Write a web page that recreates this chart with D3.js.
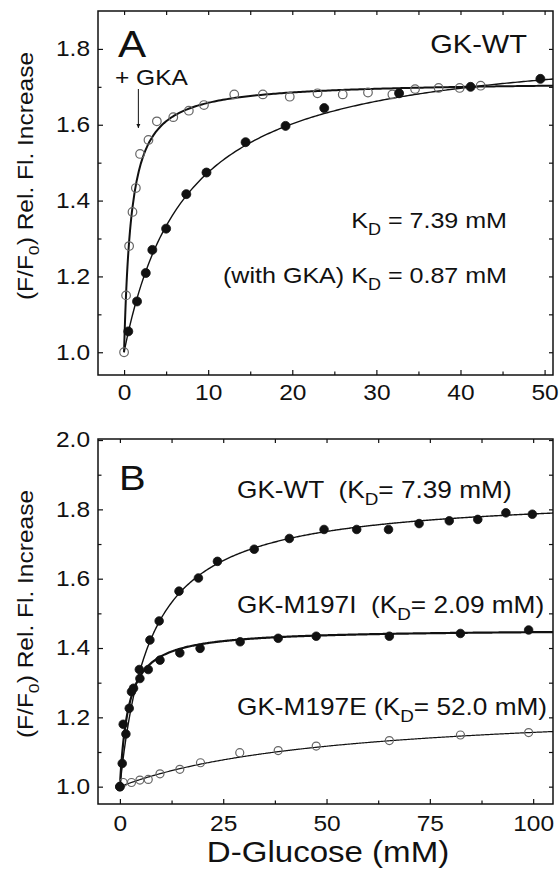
<!DOCTYPE html>
<html>
<head>
<meta charset="utf-8">
<script src="https://cdn.jsdelivr.net/npm/d3@7"></script>
<style>
body { margin: 0; background: #fff; }
svg { display: block; font-family: "Liberation Sans", Arial, sans-serif; }
</style>
</head>
<body>
<div id="chart"></div>
<script>

// ---- panel A : GK-WT, glucose titration with and without GKA ----
const concA_gka = [0, 0.24, 0.6, 1.0, 1.4, 1.9, 2.9, 3.9, 5.85, 7.7, 9.5, 13.1, 16.5, 19.7, 23.0, 26.0, 29.0, 31.9, 34.6, 37.4, 39.9, 42.4];
const relA_gka  = [1.0, 1.15, 1.28, 1.37, 1.433, 1.523, 1.56, 1.609, 1.62, 1.637, 1.652, 1.68, 1.68, 1.674, 1.683, 1.68, 1.685, 1.68, 1.694, 1.697, 1.697, 1.703];

const concA_wt = [0.5, 1.54, 2.58, 3.36, 5.0, 7.4, 9.8, 14.45, 19.2, 23.8, 32.7, 41.2, 49.5];
const relA_wt  = [1.055, 1.134, 1.209, 1.27, 1.326, 1.417, 1.474, 1.554, 1.597, 1.644, 1.683, 1.70, 1.721];

// ---- panel B : WT and the two mutants ----
const concB_wt = [0, 0.56, 1.45, 2.26, 4.7, 7.26, 9.5, 14.3, 19.0, 23.6, 32.5, 41.0, 49.4, 57.3, 65.0, 72.4, 79.7, 86.6, 93.4, 99.8];
const relB_wt  = [1.0, 1.067, 1.152, 1.226, 1.338, 1.423, 1.478, 1.564, 1.602, 1.650, 1.685, 1.716, 1.742, 1.742, 1.742, 1.759, 1.767, 1.771, 1.79, 1.786];

const concB_i = [0, 0.8, 2.8, 3.3, 4.84, 6.86, 9.7, 14.5, 19.4, 29.1, 38.3, 47.5, 65.2, 82.4, 98.9];
const relB_i  = [1.0, 1.18, 1.274, 1.284, 1.312, 1.338, 1.365, 1.386, 1.399, 1.418, 1.428, 1.434, 1.434, 1.442, 1.452];

const concB_e = [0, 0.8, 2.8, 4.84, 6.86, 9.7, 14.5, 19.5, 29.0, 38.3, 47.5, 65.2, 82.4, 98.9];
const relB_e  = [1.0, 1.012, 1.012, 1.019, 1.021, 1.037, 1.05, 1.069, 1.098, 1.104, 1.117, 1.133, 1.149, 1.156];

// hyperbolic fits: F/F0 = 1 + fmax * S / (KD + S)
const fitNames = ['A_wt', 'A_gka', 'B_wt', 'B_i', 'B_e'];
const fitKd    = [7.39, 0.87, 7.39, 2.09, 52.0];
const fitFmax  = [0.825, 0.715, 0.845, 0.455, 0.238];
const fitWidth = [1.4, 2.0, 1.4, 2.2, 1.2];

// ticks
const xTicksA = [0, 10, 20, 30, 40, 50];
const xMinorA = [5, 15, 25, 35, 45];
const yTicksA = [1.0, 1.2, 1.4, 1.6, 1.8];
const yMinorA = [1.1, 1.3, 1.5, 1.7];
const xTicksB = [0, 25, 50, 75, 100];
const xMinorB = [12.5, 37.5, 62.5, 87.5];
const yTicksB = [1.0, 1.2, 1.4, 1.6, 1.8, 2.0];
const yMinorB = [1.1, 1.3, 1.5, 1.7, 1.9];

const W = 560, H = 874;
const stretch = 1.14;   // the original lettering is a bit wide
const ink = '#111';

let svg = d3.select('#chart')
  .append('svg')
    .attr('width', W)
    .attr('height', H)
;

svg.append('defs').append('marker')
    .attr('id', 'arrowhead')
    .attr('viewBox', '0 0 10 10')
    .attr('refX', 10)
    .attr('refY', 5)
    .attr('markerWidth', 4)
    .attr('markerHeight', 9)
    .attr('markerUnits', 'userSpaceOnUse')
    .attr('orient', 'auto')
  .append('path')
    .attr('d', 'M0,0 L10,5 L0,10 z')
    .attr('fill', ink)
;

function styleAxis(g, withText) {
  g.select('.domain').remove();
  g.selectAll('.tick line').attr('stroke', ink).attr('stroke-width', 1.2);
  if (withText) {
    g.selectAll('.tick text')
      .attr('font-size', 21.5)
      .attr('fill', ink)
      .attr('transform', 'scale(' + stretch + ',1)');
  } else {
    g.selectAll('.tick text').remove();
  }
}

function panel(xDom, yDom, top, bottom, xMajor, xMinor, yMajor, yMinor, xFmt, pad) {
  let left = 98, right = 553;
  let x = d3.scaleLinear().domain(xDom).range([left, right]);
  let y = d3.scaleLinear().domain(yDom).range([bottom, top]);
  let g = svg.append('g');

  // bottom + top
  g.append('g').attr('transform', 'translate(0,' + bottom + ')')
    .call(d3.axisBottom(x).tickValues(xMajor).tickSize(-5).tickPadding(pad).tickFormat(d3.format(xFmt)))
    .call(a => styleAxis(a, true));
  g.append('g').attr('transform', 'translate(0,' + bottom + ')')
    .call(d3.axisBottom(x).tickValues(xMinor).tickSize(-3.5))
    .call(a => styleAxis(a, false));
  g.append('g').attr('transform', 'translate(0,' + top + ')')
    .call(d3.axisTop(x).tickValues(xMajor.concat(xMinor)).tickSize(-4))
    .call(a => styleAxis(a, false));

  // left + right
  g.append('g').attr('transform', 'translate(' + left + ',0)')
    .call(d3.axisLeft(y).tickValues(yMajor).tickSize(-5).tickPadding(7).tickFormat(d3.format('.1f')))
    .call(a => styleAxis(a, true));
  g.append('g').attr('transform', 'translate(' + left + ',0)')
    .call(d3.axisLeft(y).tickValues(yMinor).tickSize(-3.5))
    .call(a => styleAxis(a, false));
  g.append('g').attr('transform', 'translate(' + right + ',0)')
    .call(d3.axisRight(y).tickValues(yMajor.concat(yMinor)).tickSize(-4))
    .call(a => styleAxis(a, false));

  g.append('rect')
    .attr('x', left).attr('y', top)
    .attr('width', right - left).attr('height', bottom - top)
    .attr('fill', 'none').attr('stroke', ink).attr('stroke-width', 1.5);

  return {g: g, x: x, y: y};
}

function fitCurve(p, name, xmax) {
  let i = fitNames.indexOf(name);
  let xs = d3.range(0, 1, 0.01).concat(d3.range(1, xmax, 0.25)).concat([xmax]);
  let line = d3.line()
    .x(d => p.x(d))
    .y(d => p.y(1 + fitFmax[i] * d / (fitKd[i] + d)));
  p.g.append('path')
    .attr('d', line(xs))
    .attr('fill', 'none')
    .attr('stroke', ink)
    .attr('stroke-width', fitWidth[i]);
}

function dots(p, xs, ys, filled, r) {
  p.g.selectAll(null).data(xs).enter()
    .append('circle')
      .attr('cx', d => p.x(d))
      .attr('cy', (d, i) => p.y(ys[i]))
      .attr('r', r)
      .attr('fill', filled ? ink : 'none')
      .attr('stroke', filled ? ink : '#666')
      .attr('stroke-width', filled ? 0.8 : 1.2);
}

// text with optional subscripts: parts starting with "_" are subscripts
function label(x, y, size, parts, anchor, rot) {
  let t = svg.append('text')
    .attr('transform', 'translate(' + x + ',' + y + ')' + (rot ? ' rotate(' + rot + ')' : '') + ' scale(' + stretch + ',1)')
    .attr('font-size', size)
    .attr('fill', ink)
    .attr('text-anchor', anchor || 'start')
    .style('white-space', 'pre');
  let low = 0;
  parts.forEach(s => {
    let sub = s[0] == '_';
    let dy = sub ? size * 0.3 : 0;
    t.append('tspan')
      .attr('dy', dy - low)
      .attr('font-size', sub ? size * 0.72 : size)
      .text(sub ? s.slice(1) : s);
    low = dy;
  });
  return t;
}

// ---- panel A ----
let pA = panel([-3.1, 51], [0.94, 1.9], 11, 375, xTicksA, xMinorA, yTicksA, yMinorA, 'd', 10);
fitCurve(pA, 'A_wt', 51);
fitCurve(pA, 'A_gka', 51);
dots(pA, concA_gka, relA_gka, false, 4.3);
dots(pA, concA_wt, relA_wt, true, 4.5);

pA.g.append('line')
  .attr('x1', pA.x(1.7)).attr('x2', pA.x(1.7))
  .attr('y1', 89).attr('y2', 128)
  .attr('stroke', ink).attr('stroke-width', 1)
  .attr('marker-end', 'url(#arrowhead)');

label(118, 57, 37, ['A']);
label(115, 85, 21.5, ['+ GKA']);
label(527, 53, 25.5, ['GK-WT'], 'end');
label(507, 228, 22, ['K', '_D', ' = 7.39 mM'], 'end');
label(507, 283, 22, ['(with GKA) K', '_D', ' = 0.87 mM'], 'end');
label(33, 176, 21.5, ['(F/F', '_0', ') Rel. Fl. Increase'], 'middle', -90);

// ---- panel B ----
let pB = panel([-5.3, 104.8], [0.95, 2.003], 439, 804, xTicksB, xMinorB, yTicksB, yMinorB, 'd', 12);
fitCurve(pB, 'B_e', 104.8);
fitCurve(pB, 'B_wt', 104.8);
fitCurve(pB, 'B_i', 104.8);
dots(pB, concB_e, relB_e, false, 4);
dots(pB, concB_wt, relB_wt, true, 4.3);
dots(pB, concB_i, relB_i, true, 4.3);

label(119, 490, 35, ['B']);
label(237, 498, 23, ['GK-WT  (K', '_D', '= 7.39 mM)']);
label(237, 613, 23, ['GK-M197I  (K', '_D', '= 2.09 mM)']);
label(237, 715, 23, ['GK-M197E (K', '_D', '= 52.0 mM)']);
label(33, 614, 21.5, ['(F/F', '_0', ') Rel. Fl. Increase'], 'middle', -90);
label(328, 862, 29, ['D-Glucose (mM)'], 'middle');

</script>
</body>
</html>
